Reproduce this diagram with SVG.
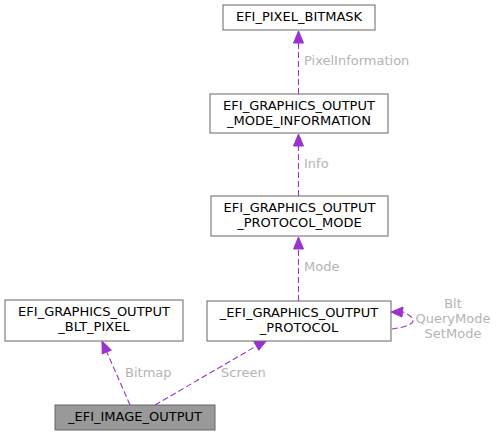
<svg xmlns="http://www.w3.org/2000/svg" width="497" height="436" viewBox="0 0 497 436">
<style>
.box{fill:#ffffff;stroke:#666666;stroke-width:1}
.sel{fill:#999999;stroke:#666666;stroke-width:1}
.t{font-family:"DejaVu Sans",sans-serif;font-size:13px;fill:#000000;text-anchor:middle}
.e{fill:none;stroke:#9a32cd;stroke-width:1.1;stroke-dasharray:6,3}
.ah{fill:#9a32cd;stroke:#9a32cd;stroke-width:1}
.l{font-family:"DejaVu Sans",sans-serif;font-size:13px;fill:#b4b4b4}
</style>
<rect width="497" height="436" fill="#ffffff"/>
<g id="connectors">
<line class="e" x1="298.5" y1="94" x2="298.5" y2="43"/>
<polygon class="ah" points="298.5,31 293.5,43 303.5,43"/>
<text class="l" x="304" y="65">PixelInformation</text>
<line class="e" x1="298.5" y1="196" x2="298.5" y2="146"/>
<polygon class="ah" points="298.5,134 293.5,146 303.5,146"/>
<text class="l" x="304" y="168">Info</text>
<line class="e" x1="298.5" y1="301" x2="298.5" y2="249"/>
<polygon class="ah" points="298.5,237 293.5,249 303.5,249"/>
<text class="l" x="304" y="271">Mode</text>
<path class="e" d="M392,329 C400,328 413,325 413,321 C413,317 408,314 403,312"/>
<polygon class="ah" points="391,312 403,307 402,317"/>
<text class="l" x="453" y="308" text-anchor="middle">Blt</text>
<text class="l" x="453" y="323" text-anchor="middle">QueryMode</text>
<text class="l" x="453" y="338" text-anchor="middle">SetMode</text>
<line class="e" x1="130" y1="405" x2="106.8" y2="352"/>
<polygon class="ah" points="102,341 111.4,350 102.2,354"/>
<text class="l" x="125" y="377">Bitmap</text>
<line class="e" x1="155" y1="405" x2="256.3" y2="346"/>
<polygon class="ah" points="267,340 258.8,350.3 253.8,341.7"/>
<text class="l" x="221" y="377">Screen</text>
</g>
<g id="n_pixel_bitmask">
<rect class="box" x="223" y="5" width="152" height="25"/>
<text class="t" x="299" y="21">EFI_PIXEL_BITMASK</text>
</g>
<g id="n_mode_information">
<rect class="box" x="210" y="94" width="178" height="39"/>
<text class="t" x="299" y="110">EFI_GRAPHICS_OUTPUT</text>
<text class="t" x="299" y="125">_MODE_INFORMATION</text>
</g>
<g id="n_protocol_mode">
<rect class="box" x="211" y="196" width="177" height="40"/>
<text class="t" x="299.5" y="212">EFI_GRAPHICS_OUTPUT</text>
<text class="t" x="299.5" y="227">_PROTOCOL_MODE</text>
</g>
<g id="n_protocol">
<rect class="box" x="207" y="301" width="184" height="40"/>
<text class="t" x="299" y="317">_EFI_GRAPHICS_OUTPUT</text>
<text class="t" x="299" y="332">_PROTOCOL</text>
</g>
<g id="n_blt_pixel">
<rect class="box" x="5" y="300" width="178" height="41"/>
<text class="t" x="94" y="316">EFI_GRAPHICS_OUTPUT</text>
<text class="t" x="94" y="331">_BLT_PIXEL</text>
</g>
<g id="n_image_output">
<rect class="sel" x="55" y="405" width="160" height="25"/>
<text class="t" x="135" y="421">_EFI_IMAGE_OUTPUT</text>
</g>
</svg>
